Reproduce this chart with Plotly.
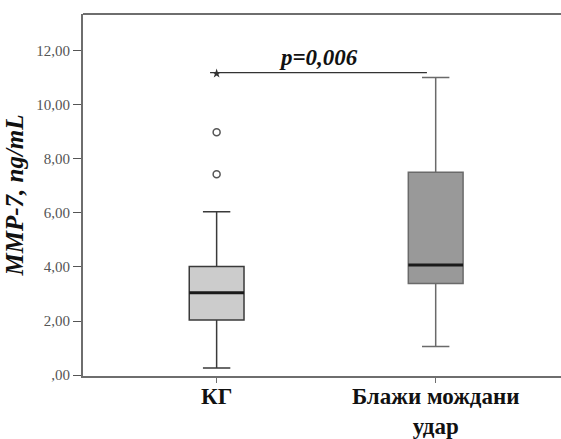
import plotly.graph_objects as go

# Summary statistics per group (ng/mL)
groups = ["КГ", "Блажи мождани<br>удар"]
positions = [0, 1]
q1 = [2.04, 3.39]
median = [3.05, 4.07]
q3 = [4.02, 7.50]
lower_whisker = [0.27, 1.06]
upper_whisker = [6.04, 11.00]
fills = ["#cccccc", "#999999"]
edges = ["#3a3a3a", "#6a6a6a"]

# Outliers (circles) and extreme value (star) for the control group
outlier_x = [0, 0]
outlier_y = [7.43, 8.98]
extreme_x = [0]
extreme_y = [11.15]

# Significance bar
p_label = "p=0,006"
p_bar_x = [-0.03, 0.96]
p_bar_y = 11.18

y_ticks = [0, 2, 4, 6, 8, 10, 12]
y_ticktext = [",00", "2,00", "4,00", "6,00", "8,00", "10,00", "12,00"]

box_w = 0.25

fig = go.Figure()

for i in range(len(groups)):
    x0 = positions[i]
    fig.add_trace(go.Box(
        x=[x0], q1=[q1[i]], median=[median[i]], q3=[q3[i]],
        lowerfence=[lower_whisker[i]], upperfence=[upper_whisker[i]],
        width=box_w, whiskerwidth=0.5, fillcolor=fills[i],
        line=dict(color=edges[i], width=1.5),
        boxpoints=False, hoverinfo="skip", showlegend=False,
    ))
    # heavier median line
    fig.add_trace(go.Scatter(
        x=[x0 - box_w / 2, x0 + box_w / 2], y=[median[i], median[i]],
        mode="lines", line=dict(color="#1a1a1a", width=3),
        hoverinfo="skip", showlegend=False,
    ))

fig.add_trace(go.Scatter(
    x=outlier_x, y=outlier_y, mode="markers",
    marker=dict(symbol="circle-open", size=7, color="#555555", line=dict(width=1.5)),
    hoverinfo="skip", showlegend=False,
))

fig.add_trace(go.Scatter(
    x=p_bar_x, y=[p_bar_y, p_bar_y], mode="lines",
    line=dict(color="#333333", width=1.3),
    hoverinfo="skip", showlegend=False,
))

fig.add_trace(go.Scatter(
    x=extreme_x, y=extreme_y, mode="markers",
    marker=dict(symbol="star", size=7, color="#333333"),
    hoverinfo="skip", showlegend=False,
))

fig.add_annotation(
    x=(p_bar_x[0] + p_bar_x[1]) / 2, y=p_bar_y, yshift=1,
    text="<b><i>" + p_label + "</i></b>", showarrow=False,
    yanchor="bottom", xanchor="center",
    font=dict(family="Liberation Serif", size=23, color="#111111"),
)

# top frame line, left open on the right side
fig.add_shape(
    type="line", xref="paper", yref="paper", x0=0, x1=1, y0=1, y1=1,
    line=dict(color="#6e6e6e", width=2),
)

fig.update_layout(
    width=561, height=439,
    margin=dict(l=83, r=0, t=14, b=59),
    paper_bgcolor="white", plot_bgcolor="white",
    font=dict(family="Liberation Serif"),
    xaxis=dict(
        range=[-0.61, 1.572],
        tickvals=positions,
        ticktext=["<b>" + g + "</b>" for g in groups],
        tickfont=dict(family="Liberation Serif", size=23, color="#111111"),
        ticklabelstandoff=-7,
        showgrid=False, zeroline=False,
        showline=True, linecolor="#6e6e6e", linewidth=2, mirror=False,
        ticks="outside", ticklen=5, tickcolor="#6e6e6e", tickwidth=1,
    ),
    yaxis=dict(
        range=[-0.03, 13.35],
        tickvals=y_ticks, ticktext=y_ticktext,
        tickfont=dict(family="Liberation Serif", size=15, color="#555555"),
        showgrid=False, zeroline=False, mirror=False,
        showline=True, linecolor="#6e6e6e", linewidth=2,
        ticks="outside", ticklen=8, tickcolor="#555555", tickwidth=1,
        title=dict(
            text="<b><i>MMP-7, ng/mL</i></b>",
            font=dict(family="Liberation Serif", size=25, color="#111111"),
            standoff=6,
        ),
    ),
)

fig.write_html("out.html")
